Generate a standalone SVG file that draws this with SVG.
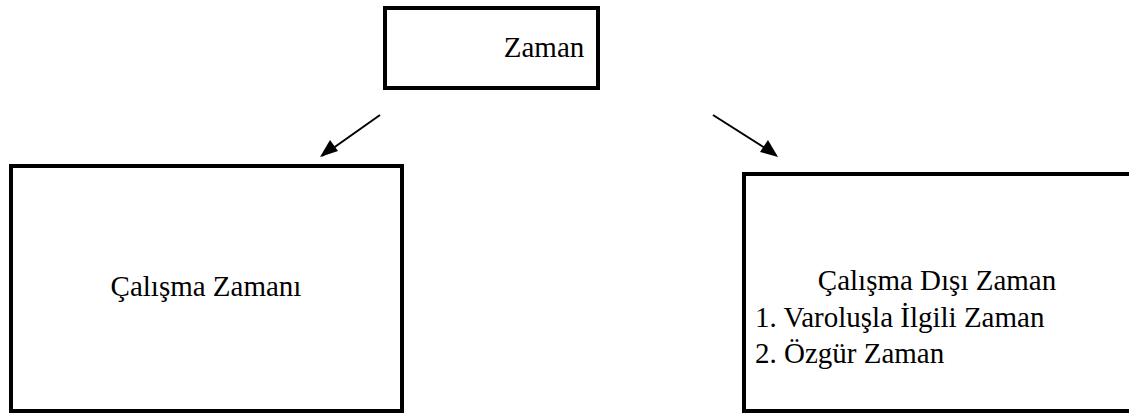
<svg xmlns="http://www.w3.org/2000/svg" width="1129" height="414" viewBox="0 0 1129 414">
<style>
.box{fill:#fff;stroke:#000;stroke-width:4}
.t{font-family:'Liberation Serif','Times New Roman',Tinos,'DejaVu Serif',serif;font-size:29px;fill:#000}
.c{stroke:#000;stroke-width:2;fill:none}
</style>
<rect width="1129" height="414" fill="#fff"/>
<g id="connectors">
<line class="c" x1="380" y1="115" x2="322" y2="156"/>
<polygon points="320,157 330,140 338,151" fill="#000"/>
<line class="c" x1="713" y1="115" x2="776" y2="155"/>
<polygon points="778,157 760,152 768,140" fill="#000"/>
</g>
<g id="zaman">
<rect class="box" x="385" y="8" width="213" height="80"/>
<text class="t" font-family="Liberation Serif, serif" x="544" y="57" text-anchor="middle">Zaman</text>
</g>
<g id="calisma">
<rect class="box" x="11" y="166" width="391" height="245"/>
<text class="t" font-family="Liberation Serif, serif" x="206" y="296" text-anchor="middle">Çalışma Zamanı</text>
</g>
<g id="calisma-disi">
<rect class="box" x="744" y="174" width="400" height="237"/>
<text class="t" font-family="Liberation Serif, serif" x="937" y="290" text-anchor="middle">Çalışma Dışı Zaman</text>
<text class="t" font-family="Liberation Serif, serif" x="755" y="327">1. Varoluşla İlgili Zaman</text>
<text class="t" font-family="Liberation Serif, serif" x="755" y="363">2. Özgür Zaman</text>
</g>
</svg>
